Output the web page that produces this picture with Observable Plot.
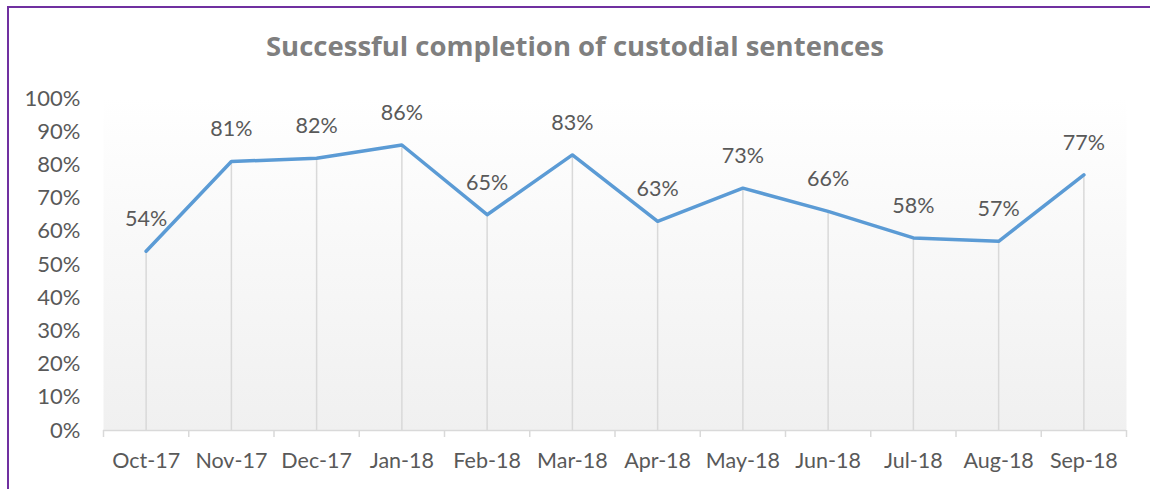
<!DOCTYPE html>
<html>
<head>
<meta charset="utf-8">
<script src="https://cdn.jsdelivr.net/npm/d3@7"></script>
<script src="https://cdn.jsdelivr.net/npm/@observablehq/plot@0.6"></script>
<style>
  html, body { margin: 0; padding: 0; background: #fff; }
  #wrap { position: relative; width: 1150px; height: 489px; overflow: hidden; }
  #border { position: absolute; left: 7px; top: 6px; width: 1300px; height: 700px;
    border-top: 2px solid #7030a0; border-left: 2px solid #7030a0; pointer-events: none; }
  #title { position: absolute; left: 0; width: 1150px; top: 27px; text-align: center;
    font-family: "Open Sans", sans-serif; font-weight: bold; font-size: 27.5px; color: #7f7f7f; }
  svg { display: block; }
</style>
</head>
<body>
<div id="wrap">
  <div id="chart"></div>
  <div id="title">Successful completion of custodial sentences</div>
  <div id="border"></div>
</div>
<script>
const months = ["Oct-17","Nov-17","Dec-17","Jan-18","Feb-18","Mar-18","Apr-18","May-18","Jun-18","Jul-18","Aug-18","Sep-18"];
const values = [0.54, 0.81, 0.82, 0.86, 0.65, 0.83, 0.63, 0.73, 0.66, 0.58, 0.57, 0.77];
const yTicks = [0, 0.1, 0.2, 0.3, 0.4, 0.5, 0.6, 0.7, 0.8, 0.9, 1.0];

const data = months.map((m, i) => ({i, month: m, value: values[i]}));
const centers = months.map((m, i) => i);
const boundaries = d3.range(-0.5, months.length, 1);

const fontFamily = "Lato, 'Open Sans', sans-serif";

const chart = Plot.plot({
  width: 1150,
  height: 489,
  marginLeft: 103,
  marginRight: 24,
  marginTop: 98,
  marginBottom: 59,
  style: {fontFamily, fontSize: "21px", color: "#595959", background: "transparent"},
  x: {type: "linear", domain: [-0.5, months.length - 0.5], label: null},
  y: {domain: [0, 1], label: null},
  marks: [
    Plot.frame({fill: "url(#bgGrad)", stroke: null}),
    Plot.ruleX(data, {x: "i", y1: 0, y2: "value", stroke: "#d9d9d9", strokeWidth: 1.5}),
    Plot.ruleY([0], {stroke: "#d9d9d9", strokeWidth: 1.5}),
    Plot.axisY({ticks: yTicks, tickFormat: d3.format(".0%"), tickSize: 0, tickPadding: 23,
      fontSize: 22, fill: "#595959", fontFamily, label: null}),
    Plot.axisX({ticks: boundaries, tickFormat: () => "", tickSize: 7, stroke: "#d9d9d9", strokeWidth: 1.5, label: null}),
    Plot.axisX({ticks: centers, tickFormat: i => months[i], tickSize: 0, tickPadding: 22,
      fontSize: 21.5, fill: "#595959", fontFamily, label: null}),
    Plot.line(data, {x: "i", y: "value", stroke: "#5b9bd5", strokeWidth: 3.5,
      strokeLinejoin: "round", strokeLinecap: "round"}),
    Plot.text(data, {x: "i", y: "value", text: d => d3.format(".0%")(d.value), dy: -32,
      fill: "#595959", fontSize: 21.5, fontFamily, textAnchor: "middle", lineAnchor: "middle"})
  ]
});

const svg = d3.select(chart);
const defs = svg.insert("defs", ":first-child");
const grad = defs.append("linearGradient").attr("id", "bgGrad")
  .attr("x1", 0).attr("y1", 0).attr("x2", 0).attr("y2", 1);
grad.append("stop").attr("offset", "0").attr("stop-color", "#ffffff");
grad.append("stop").attr("offset", "0.12").attr("stop-color", "#fdfdfd");
grad.append("stop").attr("offset", "1").attr("stop-color", "#f0f0f0");

document.getElementById("chart").appendChild(chart);
</script>
</body>
</html>
